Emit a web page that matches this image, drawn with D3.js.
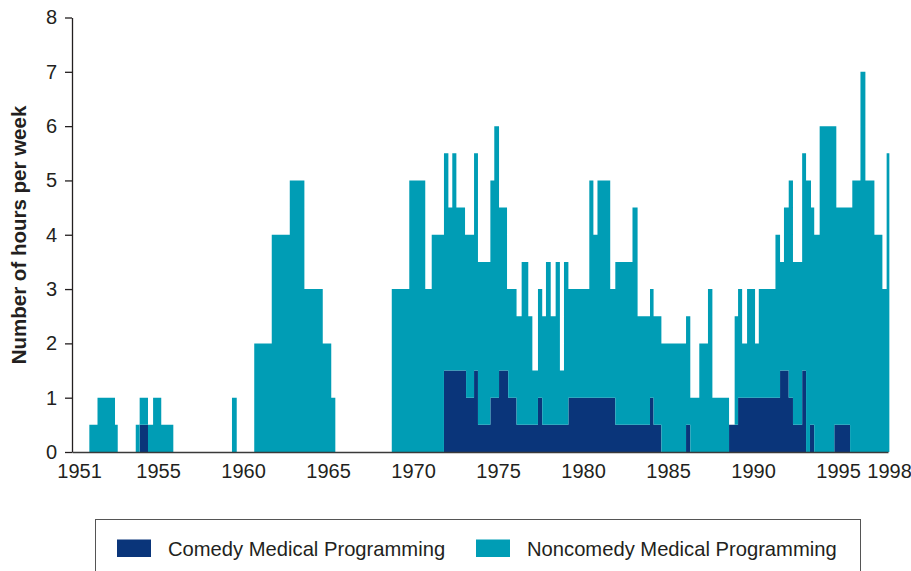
<!DOCTYPE html>
<html>
<head>
<meta charset="utf-8">
<script src="https://cdn.jsdelivr.net/npm/d3@7"></script>
<style>
  body { margin: 0; background: #ffffff; }
  svg { display: block; font-family: "Liberation Sans", Arial, Helvetica, sans-serif; }
</style>
</head>
<body>
<div id="chart"></div>
<script>
// start year of each step of the series (a step lasts until the next start)
let stepYears = [
  1950.96, 1951.44, 1952.47, 1952.63, 1953.69, 1953.92, 1954.41, 1954.71, 1955.19, 1955.90,
  1959.35, 1959.63, 1960.66, 1961.69, 1962.75, 1963.61, 1964.69, 1965.19, 1965.43,
  1968.75, 1969.78, 1970.72, 1971.10, 1971.82, 1972.08, 1972.31, 1972.55, 1973.06, 1973.12,
  1973.59, 1973.82, 1974.55, 1974.78, 1975.06, 1975.53, 1975.60, 1976.09, 1976.39, 1976.78,
  1977.02, 1977.35, 1977.60, 1977.82, 1978.10, 1978.39, 1978.64, 1978.88, 1979.14, 1980.37,
  1980.61, 1980.85, 1981.60, 1981.90, 1982.91, 1983.21, 1983.94, 1984.15, 1984.61, 1986.06,
  1986.31, 1986.84, 1987.35, 1987.61, 1988.59, 1988.92, 1989.12, 1989.36, 1989.65, 1990.12,
  1990.34, 1991.32, 1991.59, 1991.82, 1992.10, 1992.35, 1992.89, 1993.12, 1993.35, 1993.41,
  1993.60, 1993.92, 1994.78, 1994.90, 1995.71, 1995.84, 1996.32, 1996.61, 1997.14, 1997.61,
  1997.86
];
let endYear = 1998.02;

// hours per week, comedy medical programming
let comedyHours = [
  0, 0, 0, 0, 0, 0.5, 0, 0, 0, 0,
  0, 0, 0, 0, 0, 0, 0, 0, 0,
  0, 0, 0, 0, 1.5, 1.5, 1.5, 1.5, 1.5, 1,
  1.5, 0.5, 1, 1, 1.5, 1.5, 1, 0.5, 0.5, 0.5,
  0.5, 1, 0.5, 0.5, 0.5, 0.5, 0.5, 0.5, 1, 1,
  1, 1, 1, 0.5, 0.5, 0.5, 1, 0.5, 0, 0.5,
  0, 0, 0, 0, 0.5, 0.5, 1, 1, 1, 1,
  1, 1, 1.5, 1.5, 1, 0.5, 1.5, 0, 0.5, 0.5,
  0, 0, 0.5, 0.5, 0, 0, 0, 0, 0, 0,
  0
];

// hours per week, noncomedy medical programming
let noncomedyHours = [
  0.5, 1, 0.5, 0, 0.5, 0.5, 0.5, 1, 0.5, 0,
  1, 0, 2, 4, 5, 3, 2, 1, 0,
  3, 5, 3, 4, 4, 3, 4, 3, 2.5, 3,
  4, 3, 4, 5, 3, 1.5, 2, 2, 3, 2,
  1, 2, 2, 3, 2, 3, 1, 3, 2, 4,
  3, 4, 2, 3, 4, 2, 2, 2, 2, 2,
  1, 2, 3, 1, 0, 2, 2, 1, 2, 1,
  2, 3, 2, 3, 4, 3, 4, 5, 4.5, 4,
  4, 6, 5.5, 4, 4.5, 5, 7, 5, 4, 3,
  5.5
];

let seriesKeys = ["comedy", "noncomedy"];
let seriesNames = ["Comedy Medical Programming", "Noncomedy Medical Programming"];
let seriesColors = ["#0a357a", "#009db5"];
let xTickYears = [1951, 1955, 1960, 1965, 1970, 1975, 1980, 1985, 1990, 1995, 1998];
let yTickValues = [0, 1, 2, 3, 4, 5, 6, 7, 8];

// build rows, repeat the last step at the end year so the final step has a width
let rows = stepYears.map(function(yr, i) {
  return { year: yr, comedy: comedyHours[i], noncomedy: noncomedyHours[i] };
});
let last = rows[rows.length - 1];
rows.push({ year: endYear, comedy: last.comedy, noncomedy: last.noncomedy });

let svgWidth = 911;
let svgHeight = 571;

let xScale = d3.scaleLinear()
  .domain([1949.94, 1997.94])
  .range([72, 888]);

let yScale = d3.scaleLinear()
  .domain([0, 8])
  .range([452, 17.5]);

let svg = d3.select("#chart").append("svg")
  .attr("width", svgWidth)
  .attr("height", svgHeight);

// stacked step areas
let stacked = d3.stack().keys(seriesKeys)(rows);

let area = d3.area()
  .curve(d3.curveStepAfter)
  .x(function(d) { return xScale(d.data.year); })
  .y0(function(d) { return yScale(d[0]); })
  .y1(function(d) { return yScale(d[1]); });

svg.append("g")
  .selectAll("path")
  .data(stacked)
  .enter()
  .append("path")
  .attr("d", area)
  .attr("fill", function(d, i) { return seriesColors[i]; });

// y axis
let yAxis = svg.append("g")
  .attr("transform", "translate(72,0)")
  .call(d3.axisLeft(yScale).tickValues(yTickValues).tickSize(7).tickSizeOuter(0).tickPadding(8).tickFormat(d3.format("d")));

yAxis.select(".domain").attr("stroke", "#231f20").attr("stroke-width", 1.3);
yAxis.selectAll(".tick line").attr("stroke", "#231f20").attr("stroke-width", 1.3);
yAxis.selectAll("text").style("font-size", "20px").attr("fill", "#231f20");

// x axis: no tick marks, only labels
let xAxis = svg.append("g")
  .attr("transform", "translate(0,452)")
  .call(d3.axisBottom(xScale).tickValues(xTickYears).tickSize(0).tickSizeOuter(0).tickPadding(12).tickFormat(d3.format("d")));

xAxis.select(".domain").attr("stroke", "#3a3a3a").attr("stroke-width", 1.6);
xAxis.selectAll("text").style("font-size", "20px").attr("fill", "#231f20");

// the first year label sits a little to the left, under the axis corner
xAxis.selectAll("text").filter(function(d) { return d === 1951; }).attr("dx", -11);

// y axis title
svg.append("text")
  .attr("transform", "translate(26,235) rotate(-90)")
  .attr("text-anchor", "middle")
  .style("font-size", "20.5px")
  .style("font-weight", "bold")
  .attr("fill", "#231f20")
  .text("Number of hours per week");

// legend box
let legend = svg.append("g");

legend.append("rect")
  .attr("x", 95.5)
  .attr("y", 519.5)
  .attr("width", 765)
  .attr("height", 70)
  .attr("fill", "none")
  .attr("stroke", "#555555")
  .attr("stroke-width", 1);

let legendX = [117, 476];

legend.selectAll(".swatch")
  .data(seriesNames)
  .enter()
  .append("rect")
  .attr("class", "swatch")
  .attr("x", function(d, i) { return legendX[i]; })
  .attr("y", 539.5)
  .attr("width", 34)
  .attr("height", 17.5)
  .attr("fill", function(d, i) { return seriesColors[i]; });

legend.selectAll(".label")
  .data(seriesNames)
  .enter()
  .append("text")
  .attr("class", "label")
  .attr("x", function(d, i) { return legendX[i] + 51; })
  .attr("y", 556)
  .style("font-size", "20.2px")
  .attr("fill", "#231f20")
  .text(function(d) { return d; });
</script>
</body>
</html>
